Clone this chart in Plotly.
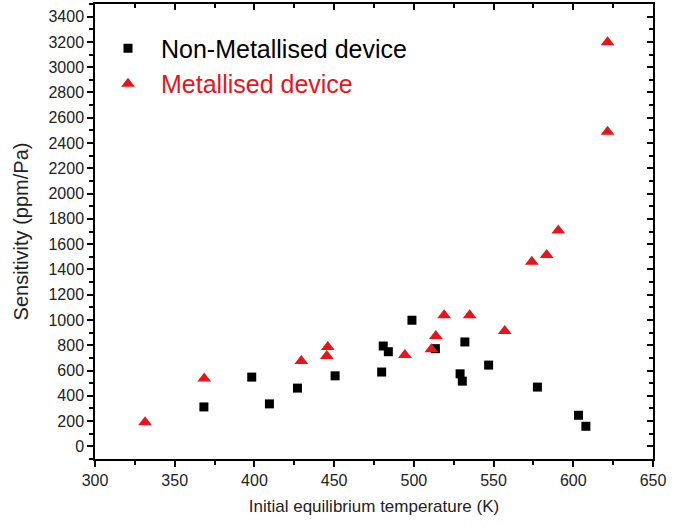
import plotly.graph_objects as go

# Non-metallised device
nm_temp = [368.3, 398.3, 409.4, 427, 450.6, 479.8, 480.8, 484, 498.8, 513.5, 529, 530.4, 532, 546.9, 577.5, 603.3, 607.9]
nm_sens = [312, 548, 336, 461, 558, 588, 794, 749, 998, 773, 574, 516, 826, 643, 469, 246, 159]

# Metallised device
m_temp = [331.4, 368.5, 429.4, 446, 445.4, 494.4, 511, 513.8, 519, 535, 557, 574, 583.3, 590.6, 621.5, 621.5]
m_sens = [190, 537, 675, 786, 715, 723, 768, 874, 1038, 1038, 913, 1461, 1515, 1708, 3198, 2489]

x_range = [300, 650]
y_range = [-100, 3500]

FONT = "Liberation Sans, Arial, sans-serif"
RED = "#e8141b"

fig = go.Figure()
fig.add_trace(go.Scatter(
    x=nm_temp, y=nm_sens, mode="markers", name="Non-Metallised device",
    marker=dict(symbol="square", size=9, color="black"),
))
fig.add_trace(go.Scatter(
    x=m_temp, y=m_sens, mode="markers",
    name=f"<span style='color:{RED}'>Metallised device</span>",
    marker=dict(symbol="triangle-up", size=12, color=RED),
))
# empty trace that carries the top/right frame axes
fig.add_trace(go.Scatter(x=[], y=[], xaxis="x2", yaxis="y2", showlegend=False,
                         hoverinfo="skip", mode="markers"))

axis_common = dict(showgrid=False, zeroline=False, showline=True, linecolor="black",
                   linewidth=1.5, tickcolor="black", tickwidth=1.5)

fig.update_layout(
    width=685, height=526,
    margin=dict(l=95, r=32, t=4, b=67),
    paper_bgcolor="white", plot_bgcolor="white",
    font=dict(family=FONT, color="#222", size=16),
    showlegend=True,
    legend=dict(x=0.0, y=0.953, xanchor="left", yanchor="top",
                font=dict(size=25, color="black"), bgcolor="rgba(0,0,0,0)",
                itemwidth=56, tracegroupgap=0),
    xaxis=dict(range=x_range, dtick=50, ticks="outside", ticklen=6,
               minor=dict(dtick=25, ticks="outside", ticklen=4, tickcolor="black"),
               title=dict(text="Initial equilibrium temperature (K)", font=dict(size=17), standoff=12),
               tickfont=dict(size=16), **axis_common),
    yaxis=dict(range=y_range, dtick=200, tick0=0, ticks="outside", ticklen=6,
               minor=dict(dtick=100, ticks="outside", ticklen=4, tickcolor="black"),
               title=dict(text="Sensitivity (ppm/Pa)", font=dict(size=20), standoff=14),
               tickfont=dict(size=16), **axis_common),
    xaxis2=dict(range=x_range, overlaying="x", side="top", dtick=50, ticks="inside", ticklen=6,
                minor=dict(dtick=25, ticks="inside", ticklen=4, tickcolor="black"),
                showticklabels=False, **axis_common),
    yaxis2=dict(range=y_range, overlaying="y", side="right", dtick=200, tick0=0, ticks="inside", ticklen=6,
                minor=dict(dtick=100, ticks="inside", ticklen=4, tickcolor="black"),
                showticklabels=False, **axis_common),
)

fig.write_html("out.html", config={"displayModeBar": False},
               post_script="document.body.style.margin='0';")
